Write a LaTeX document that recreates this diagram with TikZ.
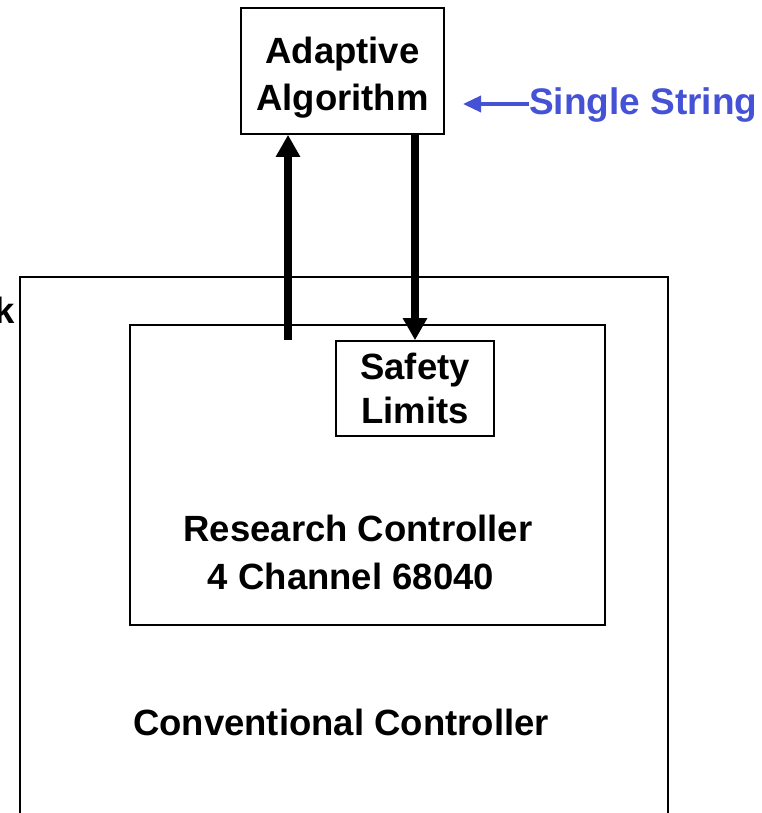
\documentclass[tikz,border=0pt]{standalone}
\usepackage{fontspec}
\setmainfont{Liberation Sans}
\usetikzlibrary{arrows.meta}
\definecolor{labelblue}{RGB}{70,82,214}
\begin{document}
\begin{tikzpicture}[x=1pt,y=-1pt,
  box/.style={draw,line width=1.6pt,inner sep=0pt,align=center},
  label/.style={font=\fontsize{36.5}{46}\selectfont\bfseries,inner sep=0pt,align=center},
  bigarrow/.style={line width=8pt,-{Triangle[width=23pt,length=22pt]}}]
\useasboundingbox (0,0) rectangle (761,813);
\clip (0,0) rectangle (761,813);
% outer controller box, running past the lower edge
\node[box,minimum width=648pt,minimum height=560pt] (conv) at (344,557) {};
% research controller box
\node[box,minimum width=475pt,minimum height=300pt] (research) at (367.5,475) {};
% safety limits box
\node[box,minimum width=158pt,minimum height=95pt,
  font=\fontsize{36.5}{44}\selectfont\bfseries] (safety) at (415,388.5) {Safety\\Limits};
% adaptive algorithm box and its text
\node[box,minimum width=203pt,minimum height=126pt] (adapt) at (342.5,71) {};
\node[label,font=\fontsize{36.5}{47}\selectfont\bfseries] (adapttext) at (342.5,77.5) {Adaptive\\Algorithm};
% text labels
\node[label] (rc) at (358,528) {Research Controller};
\node[label] (ch) at (351,576) {4 Channel 68040};
\node[label] (cc) at (341,722) {Conventional Controller};
\node[label,anchor=east] (k) at (15,310) {k};
\node[label,text=labelblue,anchor=west,font=\fontsize{37}{44}\selectfont\bfseries] (ss) at (529,105) {Single String};
% connectors
\coordinate (upstart) at (288,340);
\draw[bigarrow] (upstart) -- (upstart |- adapt.south);
\draw[bigarrow] (adapt.south -| safety.north) -- (safety.north);
\coordinate (sshead) at (463,104);
\draw[labelblue,line width=3.5pt,-{Triangle[width=16pt,length=18pt]}] (ss.west |- sshead) -- (sshead);
\end{tikzpicture}
\end{document}
